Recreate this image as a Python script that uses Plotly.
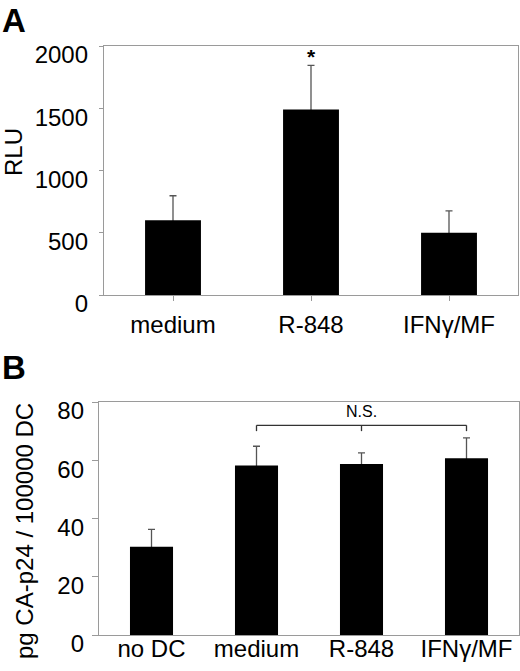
import plotly.graph_objects as go

# panel A: luciferase activity
cats_a = ["medium", "R-848", "IFNγ/MF"]
rlu = [600, 1490, 500]
rlu_err = [197, 355, 175]
ticks_a = [0, 500, 1000, 1500, 2000]
star_idx, star_y = 1, 1912

# panel B: CA-p24 per 100000 DC
cats_b = ["no DC", "medium", "R-848", "IFNγ/MF"]
p24 = [30.3, 58.2, 58.7, 60.7]
p24_err = [6.0, 6.6, 3.8, 7.0]
ticks_b = [0, 20, 40, 60, 80]

# N.S. bracket over medium .. IFNγ/MF
ns_from, ns_mid, ns_to = 1, 2, 3
ns_level, ns_drop, ns_text_y = 72, 70, 76.8

FONT = "Arial, Liberation Sans, sans-serif"
AXIS = "#9a9a9a"
ERR = "#555555"
W, H = 520, 671

fig = go.Figure()


def add_bars(cats, vals, errs, xa, ya, width):
    xs = list(range(len(cats)))
    # error bars first (transparent bars), black bars drawn over the lower half
    fig.add_trace(go.Bar(
        x=xs, y=vals, xaxis=xa, yaxis=ya, width=width,
        marker=dict(color="rgba(0,0,0,0)", line=dict(width=0)),
        error_y=dict(type="data", array=errs, color=ERR, thickness=1.3, width=3.5),
        hoverinfo="skip", showlegend=False))
    fig.add_trace(go.Bar(
        x=xs, y=vals, xaxis=xa, yaxis=ya, width=width,
        marker=dict(color="black", line=dict(width=0)), showlegend=False))


add_bars(cats_a, rlu, rlu_err, "x", "y", 0.405)
add_bars(cats_b, p24, p24_err, "x2", "y2", 0.41)

# bracket
fig.add_trace(go.Scatter(
    x=[ns_from, ns_from, None, ns_from, ns_to, None, ns_to, ns_to, None, ns_mid, ns_mid],
    y=[ns_drop, ns_level, None, ns_level, ns_level, None, ns_level, ns_drop, None, ns_level, ns_drop],
    xaxis="x2", yaxis="y2", mode="lines", line=dict(color="#333333", width=1.3),
    hoverinfo="skip", showlegend=False))

ax_common = dict(showline=True, mirror=True, linecolor=AXIS, linewidth=1.3,
                 showgrid=False, zeroline=False, automargin=False,
                 tickfont=dict(family=FONT, size=24, color="black"))

fig.update_layout(
    width=W, height=H, barmode="overlay",
    margin=dict(l=0, r=0, t=0, b=0),
    paper_bgcolor="white", plot_bgcolor="white",
    font=dict(family=FONT, color="black"),
    xaxis=dict(domain=[104 / W, 518 / W], range=[-0.5, 2.5],
               tickmode="array", tickvals=list(range(len(cats_a))), ticktext=cats_a,
               ticks="outside", tickson="boundaries", ticklen=5, tickcolor=AXIS,
               ticklabelstandoff=3, anchor="y", **ax_common),
    yaxis=dict(domain=[1 - 295 / H, 1 - 46 / H], range=[0, 2000],
               tickmode="array", tickvals=ticks_a,
               ticks="outside", ticklen=4, tickcolor=AXIS,
               ticklabelstandoff=6, ticklabelshift=9, anchor="x", **ax_common),
    xaxis2=dict(domain=[99 / W, 519 / W], range=[-0.5, 3.5],
                tickmode="array", tickvals=list(range(len(cats_b))), ticktext=cats_b,
                ticks="", ticklabelstandoff=-8, anchor="y2", **ax_common),
    yaxis2=dict(domain=[1 - 635 / H, 1 - 402 / H], range=[0, 80],
                tickmode="array", tickvals=ticks_b,
                ticks="outside", ticklen=6, tickcolor=AXIS,
                ticklabelstandoff=3, ticklabelshift=9, anchor="x2", **ax_common),
    annotations=[
        dict(text="<b>A</b>", x=0, y=1, xref="paper", yref="paper",
             xanchor="left", yanchor="top", showarrow=False, font=dict(size=33, family=FONT)),
        dict(text="<b>B</b>", x=0, y=1 - 347 / H, xref="paper", yref="paper",
             xanchor="left", yanchor="top", showarrow=False, font=dict(size=33, family=FONT)),
        dict(text="RLU", x=13 / W, y=1 - 152 / H, xref="paper", yref="paper",
             xanchor="center", yanchor="middle",
             textangle=-90, showarrow=False, font=dict(size=24, family=FONT)),
        dict(text="pg CA-p24 / 100000 DC", x=24 / W, y=1 - 531 / H, xref="paper", yref="paper",
             xanchor="center", yanchor="middle",
             textangle=-90, showarrow=False, font=dict(size=24, family=FONT)),
        dict(text="<b>*</b>", x=star_idx, y=star_y, xref="x", yref="y",
             showarrow=False, font=dict(size=21, family=FONT)),
        dict(text="N.S.", x=ns_mid, y=ns_text_y, xref="x2", yref="y2",
             showarrow=False, font=dict(size=16, family=FONT)),
    ],
)

fig.write_html("out.html", config={"displayModeBar": False},
               post_script="document.body.style.margin='0';")
